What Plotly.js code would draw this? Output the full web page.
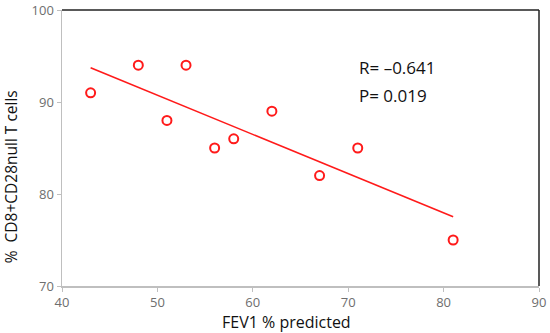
<!DOCTYPE html>
<html>
<head>
<meta charset="utf-8">
<script src="https://cdn.plot.ly/plotly-3.0.1.min.js"></script>
<style>html,body{margin:0;padding:0;background:#fff;}#chart{width:550px;height:333px;}</style>
</head>
<body>
<div id="chart"></div>
<script>
// Data
const fev1 = [43, 48, 51, 53, 56, 58, 62, 67, 71, 81];
const cd8null = [91, 94, 88, 94, 85, 86, 89, 82, 85, 75];
const xTicks = [40, 50, 60, 70, 80, 90];
const yTicks = [70, 80, 90, 100];
const xTitle = "FEV1 % predicted";
const yTitle = "%  CD8+CD28null T cells";
const statR = "R= \u20130.641";
const statP = "P= 0.019";

// Least-squares trend line computed from the data
const n = fev1.length;
const mx = fev1.reduce((a, b) => a + b, 0) / n;
const my = cd8null.reduce((a, b) => a + b, 0) / n;
let sxy = 0, sxx = 0;
for (let i = 0; i < n; i++) { sxy += (fev1[i] - mx) * (cd8null[i] - my); sxx += (fev1[i] - mx) ** 2; }
const slope = sxy / sxx, icpt = my - slope * mx;
const xMin = Math.min(...fev1), xMax = Math.max(...fev1);
const trendX = [xMin, xMax];
const trendY = trendX.map(x => icpt + slope * x);

const font = "Open Sans, Liberation Sans, sans-serif";

const traces = [
  { x: trendX, y: trendY, mode: "lines", line: { color: "#ff1a1a", width: 1.6 }, hoverinfo: "skip" },
  { x: fev1, y: cd8null, mode: "markers",
    marker: { symbol: "circle-open", size: 9, color: "#ff1a1a", line: { color: "#ff1a1a", width: 2 } } }
];

const layout = {
  width: 550, height: 333,
  margin: { l: 62, r: 11, t: 10, b: 47 },
  showlegend: false,
  paper_bgcolor: "#fff", plot_bgcolor: "#fff",
  font: { family: font },
  xaxis: {
    range: [40, 90], tickvals: xTicks, ticktext: xTicks.map(String),
    showgrid: false, zeroline: false,
    showline: true, linecolor: "#bfbfbf", linewidth: 1.5,
    ticks: "outside", ticklen: 4, tickcolor: "#bfbfbf",
    tickfont: { size: 13, color: "#6e6e6e", family: font }
  },
  yaxis: {
    range: [70, 100], tickvals: yTicks, ticktext: yTicks.map(String),
    showgrid: false, zeroline: false,
    showline: true, linecolor: "#bfbfbf", linewidth: 1.5,
    ticks: "outside", ticklen: 4, tickcolor: "#bfbfbf",
    tickfont: { size: 13, color: "#6e6e6e", family: font }
  },
  shapes: [
    { type: "line", xref: "paper", yref: "paper", x0: 0, x1: 1, y0: 1, y1: 1, line: { color: "#222", width: 1.5 } },
    { type: "line", xref: "paper", yref: "paper", x0: 1, x1: 1, y0: 0, y1: 1, line: { color: "#222", width: 1.5 } }
  ],
  annotations: [
    { xref: "paper", yref: "paper", x: 0.618, y: 0.79, xanchor: "left", yanchor: "middle", showarrow: false,
      text: statR, font: { size: 17, color: "#111", family: font } },
    { xref: "paper", yref: "paper", x: 0.618, y: 0.69, xanchor: "left", yanchor: "middle", showarrow: false,
      text: statP, font: { size: 17, color: "#111", family: font } },
    { xref: "paper", yref: "paper", x: 0.4706, y: -0.131, xanchor: "center", yanchor: "middle", showarrow: false,
      borderpad: 0, text: xTitle, font: { size: 16, color: "#111", family: font } },
    { xref: "paper", yref: "paper", x: -0.105, y: 0.397, xanchor: "center", yanchor: "middle", showarrow: false,
      borderpad: 0, textangle: -90, text: yTitle, font: { size: 15.5, color: "#111", family: font } }
  ]
};

Plotly.newPlot("chart", traces, layout, { displayModeBar: false, staticPlot: true });
</script>
</body>
</html>
